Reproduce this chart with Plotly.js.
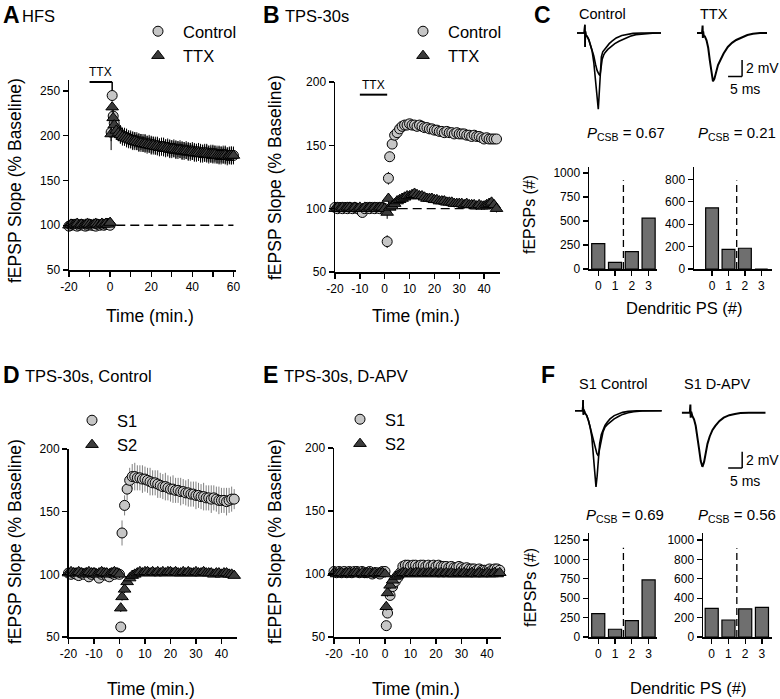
<!DOCTYPE html>
<html>
<head>
<meta charset="utf-8">
<script src="https://cdn.plot.ly/plotly-3.0.1.min.js"></script>
<style>
  html, body { margin: 0; padding: 0; background: #fff; }
  #chart { width: 780px; height: 699px; }
</style>
</head>
<body>
<div id="chart"></div>
<script>
// ---- time courses (min, % baseline) ----
const tBase = [-20,-19,-18,-17,-16,-15,-14,-13,-12,-11,-10,-9,-8,-7,-6,-5,-4,-3,-2,-1,0];

// tick labels (hyphen minus as in the figure)
const tickA = [-20, 0, 20, 40, 60];
const tickA_text = ['-20', '0', '20', '40', '60'];
const tickB = [-20, -10, 0, 10, 20, 30, 40];
const tickB_text = ['-20', '-10', '0', '10', '20', '30', '40'];

// A: HFS
const tA_post = [0.5,1,1.5,2,3,4,5,6,7,8,9,10,11,12,13,14,15,16,17,18,19,20,21,22,23,24,25,26,27,28,29,30,
  31,32,33,34,35,36,37,38,39,40,41,42,43,44,45,46,47,48,49,50,51,52,53,54,55,56,57,58,59,60];
const hfsCtrlBase = [99,100,101,100,99,100,101,100,99,100, 101,100,100,99,101,100,101,100,101,102, 100];
const hfsCtrlPost = [204,245,222,214, 208,204,202,200,199,198,197,196,
  195,195,194,193,193,192,192,191,191,190, 190,189,189,188,188,188,187,187,186,186,
  186,185,185,185,184,184,184,183,183,183, 182,182,182,181,181,181,181,180,180,180,
  180,179,179,179,179,179,178,178,178,178];
const hfsTtxBase = [100,101,100,101,102,100,101,100,101,102, 101,100,101,102,101,100,102,101,102,101, 103];
const hfsTtxPost = [202,232,220,212, 206,203,201,199,198,197,196,195,
  194,194,193,192,192,191,191,190,190,189, 189,188,188,187,187,187,186,186,185,185,
  185,184,184,184,183,183,183,182,182,182, 181,181,181,180,180,180,180,179,179,179,
  179,178,178,178,178,178,177,178,178,178];
const hfsCtrlErrPost = [10,6,9,9, 10,10,10,9,10,10,9,10, 10,9,10,10,9,10,10,9,10,10,
  9,10,10,9,10,10,9,10,10,9, 10,10,9,10,10,9,10,10,9,10, 10,9,10,10,9,10,10,9,10,10, 9,10,10,9,10,10,9,10,10,9];
const hfsTtxErrPost = [18,6,8,9, 10,9,10,10,9,10,10,9, 10,10,9,10,10,9,10,10,9,10,
  10,9,10,10,9,10,10,9,10,10, 9,10,10,9,10,10,9,10,10,9, 10,10,9,10,10,9,10,10,9,10, 10,9,10,10,9,10,10,9,10,10];
const errBase = [2,2,3,2,2,3,2,2,2,3, 2,2,3,2,2,2,3,2,2,2, 3];

// B: TPS-30s
const tB_post = [1,1.5,2,3,4,5,6,7,8,9,10,11,12,13,14,15,16,17,18,19,20,21,22,23,24,25,26,27,28,29,30,
  31,32,33,34,35,36,37,38,39,40,41,42,43,44,45];
const tpsCtrlBase = [101,100,101,100,101,100,101,100,101,100, 99,97,100,101,100,101,100,101,100,101, 100];
const tpsCtrlPost = [74,124,141, 151,158,160,163,165,166,166,167,
  166,166,165,166,165,164,164,163,163,162, 162,161,161,160,161,160,160,159,160,159,
  159,159,158,158,157,158,157,157,156,155, 156,155,155,155,155];
const tpsTtxBase = [100,101,100,101,100,101,101,100,101,100, 101,100,101,100,101,100,101,100,101,101, 100];
const tpsTtxPost = [97,108,101, 102,104,106,107,108,109,110,110,
  111,112,111,110,110,109,108,108,108,107, 107,106,106,106,105,105,105,104,104,104,
  104,103,104,103,103,103,102,103,102,102, 103,104,105,103,100];
const tpsCtrlErrPost = [5,5,4, 3,3,3,3,3,3,3,3, 3,3,3,3,3,3,3,3,3,3, 3,3,3,3,3,3,3,3,3,3, 3,3,3,3,3,3,3,3,3,3, 3,3,3,3,3];
const tpsTtxErrPost = [5,4,3, 3,3,3,3,3,3,3,3, 3,3,3,3,3,3,3,3,3,3, 3,3,3,3,3,3,3,3,3,3, 3,3,3,3,3,3,3,3,3,3, 3,3,3,3,3];

// D / E: S1 and S2 pathways
const tD_post = [0.5,1,2,3,4,5,6,7,8,9,10,11,12,13,14,15,16,17,18,19,20,21,22,23,24,25,26,27,28,29,30,
  31,32,33,34,35,36,37,38,39,40,41,42,43,44,45];
const ctlS1Base = [101,100,101,100,99,101,100,101,98,100, 101,100,97,100,101,99,98,101,100,101, 100];
const ctlS1Post = [58,133, 155,168,175,178,178,177,177,176,176,
  175,174,173,173,172,171,170,170,169,168, 168,167,167,166,166,165,165,164,164,163,
  163,162,162,161,161,160,161,160,159,159, 159,158,159,160,160];
const ctlS1ErrPost = [0,10, 8,9,10,10,11,10,10,11,10, 10,11,10,10,11,10,10,11,10,10,
  11,10,10,11,10,10,11,10,10,11, 10,10,11,10,10,11,10,10,11,10, 10,11,10,10,8];
const ctlS2Base = [101,102,101,101,102,101,100,101,102,101, 101,100,101,102,101,101,100,101,102,101, 100];
const ctlS2Post = [73,82, 88,94,97,99,100,101,102,101,102,
  102,101,102,101,102,101,102,101,102,102, 101,102,101,101,102,101,102,101,101,102,
  101,101,102,101,101,101,100,101,101,100, 101,101,100,100,99];
const apvS1Base = [102,101,102,101,102,101,102,101,102,102, 101,102,101,101,102,100,101,101,100,102, 102];
const apvS1Post = [59,69, 83,90,94,97,101,106,107,107,106,
  107,107,106,107,107,106,107,106,107,106, 107,106,106,106,105,106,105,105,106,105,
  104,105,104,104,104,103,104,103,103,103, 104,103,104,104,103];
const apvS2Base = [101,100,101,101,100,101,101,100,101,101, 100,101,100,101,101,100,101,100,101,101, 100];
const apvS2Post = [74,85, 91,95,98,99,100,101,101,100,101,
  100,101,101,100,101,100,101,101,100,101, 100,101,100,101,100,101,100,100,101,100,
  101,100,100,101,100,100,101,100,100,101, 100,100,101,100,101];
const smallErrPost = [3,3, 3,2,2,2,2,2,2,2,2, 2,2,2,2,2,2,2,2,2,2, 2,2,2,2,2,2,2,2,2,2, 2,2,2,2,2,2,2,2,2,2, 2,2,2,2,2];

// ---- dendritic population spike histograms ----
const psCats = [0, 1, 2, 3];
const histCtrl = [265, 70, 180, 530];
const histTtx = [545, 175, 185, 0];
const histS1Ctrl = [300, 100, 210, 735];
const histS1Apv = [295, 175, 290, 305];

// ---- example fEPSP traces (ms, mV) ----
const tC_noPS = [0,2.6,2.8,2.9,3.0,3.2,3.6,4.2,4.8,5.4,6.0,6.6,7.2,7.8,8.2,8.6,9.0,9.5,10,11,12,13.5,15,17,19,21,24,27,30];
const vC_noPS = [0,0,1.0,-1.7,0.2,-0.3,-0.4,-0.8,-1.4,-2.0,-2.8,-3.8,-4.6,-5.0,-5.2,-4.2,-3.2,-2.7,-2.4,-2.0,-1.7,-1.3,-1.0,-0.65,-0.4,-0.2,-0.08,-0.02,0];
const tC_PS = [0,2.6,2.8,2.9,3.0,3.2,3.6,4.2,4.8,5.4,6.0,6.5,7.0,7.3,7.6,7.9,8.3,8.7,9.2,9.8,10.5,11.5,12.5,14,16,18,20,23,26,30];
const vC_PS = [0,0,1.0,-1.7,0.2,-0.3,-0.4,-0.8,-1.4,-2.2,-3.6,-5.5,-7.8,-9.0,-9.3,-7.6,-4.6,-2.9,-2.3,-2.0,-1.7,-1.3,-1.0,-0.6,-0.3,-0.15,-0.05,0,0,0];
const tC_TTX = [0,1.8,2.0,2.1,2.2,2.4,2.8,3.4,4.0,4.6,5.2,5.7,6.2,6.8,7.5,8.5,9.5,11,12.5,14,16,18,20,22.5,25];
const vC_TTX = [0,0,0.9,-0.6,0.2,-0.3,-0.4,-0.9,-1.8,-3.4,-5.2,-5.9,-5.6,-4.7,-3.9,-3.2,-2.5,-1.7,-1.2,-0.85,-0.5,-0.25,-0.1,0,0];
const tF_noPS = [0,2.7,2.9,3.0,3.2,3.6,4.2,4.8,5.4,6.0,6.6,7.2,7.8,8.3,8.8,9.4,10,10.7,11.5,12.5,14,15.5,17,19,21,24,27,31];
const vF_noPS = [0,0,1.3,-0.5,0.1,-0.3,-0.6,-1.2,-2.0,-2.9,-3.8,-4.6,-5.2,-5.5,-4.8,-3.6,-2.6,-2.0,-1.7,-1.4,-1.0,-0.7,-0.45,-0.25,-0.12,-0.03,0,0];
const tF_PS = [0,2.7,2.9,3.0,3.2,3.6,4.2,4.8,5.4,6.0,6.5,7.0,7.5,7.9,8.3,8.8,9.4,10,10.7,11.5,12.5,14,15.5,17,19,22,26,31];
const vF_PS = [0,0,1.3,-0.5,0.1,-0.3,-0.6,-1.2,-2.0,-3.2,-5.2,-7.6,-9.3,-8.0,-5.5,-4.0,-2.9,-2.3,-1.8,-1.4,-1.0,-0.6,-0.35,-0.2,-0.08,0,0,0];
const tF_APV = [0,2.9,3.1,3.2,3.4,3.8,4.4,5.0,5.6,6.2,6.8,7.4,8.0,8.6,9.2,10,11,12,13.5,15,17,19,21,24,27,30];
const vF_APV = [0,0,1.0,-0.6,0.1,-0.4,-0.8,-1.6,-2.8,-4.4,-5.9,-6.6,-6.0,-4.8,-3.8,-2.9,-2.1,-1.6,-1.0,-0.6,-0.3,-0.15,-0.05,0,0,0];

// ---- helpers ----
const W = 780, H = 699;
const FONT = 'Liberation Sans, Arial, sans-serif';
const CIRCLE_FILL = '#c6c6c6';
const TRI_FILL = '#3c3c3c';
const dx = (a, b) => [a / W, b / W];
const dy = (top, bottom) => [1 - bottom / H, 1 - top / H];

function axis(extra) {
  return Object.assign({
    showline: true, linecolor: 'black', linewidth: 1.5,
    ticks: 'outside', ticklen: 5, tickwidth: 1.3, tickcolor: 'black',
    showgrid: false, zeroline: false, fixedrange: true,
    tickfont: {family: FONT, size: 12, color: 'black'}
  }, extra);
}
function hidden(domain, range) {
  return {visible: false, domain, range, fixedrange: true};
}
function timeSeries(name, t, y, err, n, symbol, legend, errColor) {
  const circle = symbol === 'circle';
  return {
    type: 'scatter', mode: 'markers', name, x: t, y,
    xaxis: n > 1 ? 'x' + n : 'x', yaxis: n > 1 ? 'y' + n : 'y',
    marker: {symbol, size: circle ? 10 : 11, color: circle ? CIRCLE_FILL : TRI_FILL,
             line: {color: 'black', width: 1}},
    error_y: {type: 'data', array: err, color: errColor || 'black', thickness: 1, width: 0},
    cliponaxis: false, legend
  };
}
function bars(y, n) {
  return {type: 'bar', x: psCats, y, xaxis: 'x' + n, yaxis: 'y' + n, width: 0.78,
          marker: {color: '#6f6f6f', line: {color: 'black', width: 1.2}},
          showlegend: false, cliponaxis: false};
}
function wave(t, v, n, w) {
  return {type: 'scatter', mode: 'lines', x: t, y: v, xaxis: 'x' + n, yaxis: 'y' + n,
          line: {color: 'black', width: w || 1.6}, showlegend: false, cliponaxis: false};
}
function label(text, x, y, size, extra) {
  return Object.assign({text, x: x / W, y: 1 - y / H, xref: 'paper', yref: 'paper',
    showarrow: false, xanchor: 'left', yanchor: 'middle',
    font: {family: FONT, size, color: 'black'}}, extra || {});
}
function line(ref, x0, y0, x1, y1, extra) {
  return Object.assign({type: 'line', xref: 'x' + ref, yref: 'y' + ref, x0, y0, x1, y1,
    line: {color: 'black', width: 1.5}}, extra || {});
}

const traces = [
  timeSeries('Control', tBase.concat(tA_post), hfsCtrlBase.concat(hfsCtrlPost), errBase.concat(hfsCtrlErrPost), 1, 'circle', 'legend'),
  timeSeries('TTX', tBase.concat(tA_post), hfsTtxBase.concat(hfsTtxPost), errBase.concat(hfsTtxErrPost), 1, 'triangle-up', 'legend'),
  timeSeries('Control', tBase.concat(tB_post), tpsCtrlBase.concat(tpsCtrlPost), errBase.concat(tpsCtrlErrPost), 2, 'circle', 'legend2'),
  timeSeries('TTX', tBase.concat(tB_post), tpsTtxBase.concat(tpsTtxPost), errBase.concat(tpsTtxErrPost), 2, 'triangle-up', 'legend2'),
  timeSeries('S1', tBase.concat(tD_post), ctlS1Base.concat(ctlS1Post), errBase.concat(ctlS1ErrPost), 3, 'circle', 'legend3', '#808080'),
  timeSeries('S2', tBase.concat(tD_post), ctlS2Base.concat(ctlS2Post), errBase.concat(smallErrPost), 3, 'triangle-up', 'legend3'),
  timeSeries('S1', tBase.concat(tD_post), apvS1Base.concat(apvS1Post), errBase.concat(smallErrPost), 4, 'circle', 'legend4'),
  timeSeries('S2', tBase.concat(tD_post), apvS2Base.concat(apvS2Post), errBase.concat(smallErrPost), 4, 'triangle-up', 'legend4'),
  bars(histCtrl, 5), bars(histTtx, 6), bars(histS1Ctrl, 7), bars(histS1Apv, 8),
  wave(tC_noPS, vC_noPS, 9), wave(tC_PS, vC_PS, 9),
  wave(tC_TTX, vC_TTX, 10, 2),
  wave(tF_noPS, vF_noPS, 11), wave(tF_PS, vF_PS, 11),
  wave(tF_APV, vF_APV, 12, 2)
];

const minor10 = {dtick: 10, ticks: 'outside', ticklen: 5, tickwidth: 1.3, tickcolor: 'black'};
const legendStyle = (x, y) => ({x: x / W, y: 1 - y / H, xanchor: 'left', yanchor: 'top',
  itemwidth: 40, bgcolor: 'rgba(0,0,0,0)', borderwidth: 0,
  font: {family: FONT, size: 16.5, color: 'black'}});
const timeTicksB = {tickvals: tickB, ticktext: tickB_text};

const layout = {
  width: W, height: H, margin: {l: 0, r: 0, t: 0, b: 0},
  paper_bgcolor: 'white', plot_bgcolor: 'rgba(0,0,0,0)',
  font: {family: FONT, color: 'black'}, hovermode: false, showlegend: true,
  legend: legendStyle(133, 14), legend2: legendStyle(398, 14),
  legend3: legendStyle(67, 403), legend4: legendStyle(335, 402),
  // A
  xaxis: axis({domain: dx(69, 235.5), range: [-20, 61], tickvals: tickA, ticktext: tickA_text, minor: minor10, anchor: 'y'}),
  yaxis: axis({domain: dy(80.3, 270), range: [50, 262], tick0: 50, dtick: 50, anchor: 'x'}),
  // B
  xaxis2: axis(Object.assign({domain: dx(335, 500), range: [-20, 46.4], anchor: 'y2'}, timeTicksB)),
  yaxis2: axis({domain: dy(82, 272), range: [50, 200], tick0: 50, dtick: 50, anchor: 'x2'}),
  // D
  xaxis3: axis(Object.assign({domain: dx(68.5, 237), range: [-20, 46.1], anchor: 'y3'}, timeTicksB)),
  yaxis3: axis({domain: dy(449, 637), range: [50, 200], tick0: 50, dtick: 50, anchor: 'x3'}),
  // E
  xaxis4: axis(Object.assign({domain: dx(334, 500.5), range: [-20, 45.3], anchor: 'y4'}, timeTicksB)),
  yaxis4: axis({domain: dy(448, 637), range: [50, 200], tick0: 50, dtick: 50, anchor: 'x4'}),
  // C histograms
  xaxis5: axis({domain: dx(589, 657), range: [-0.55, 3.5], tickvals: psCats, anchor: 'y5'}),
  yaxis5: axis({domain: dy(167, 269), range: [0, 1062], tickvals: [0, 250, 500, 750, 1000], anchor: 'x5'}),
  xaxis6: axis({domain: dx(694, 772), range: [-1.1, 3.65], tickvals: psCats, anchor: 'y6'}),
  yaxis6: axis({domain: dy(167, 269), range: [0, 910], tickvals: [0, 200, 400, 600, 800], anchor: 'x6'}),
  // F histograms
  xaxis7: axis({domain: dx(589, 657), range: [-0.55, 3.5], tickvals: psCats, anchor: 'y7'}),
  yaxis7: axis({domain: dy(533, 637), range: [0, 1340], tickvals: [0, 250, 500, 750, 1000, 1250], anchor: 'x7'}),
  xaxis8: axis({domain: dx(703, 772), range: [-0.52, 3.6], tickvals: psCats, anchor: 'y8'}),
  yaxis8: axis({domain: dy(533, 637), range: [0, 1072], tickvals: [0, 200, 400, 600, 800, 1000], anchor: 'x8'}),
  // example traces
  xaxis9: hidden(dx(577, 661), [0, 30]), yaxis9: hidden(dy(20.7, 115), [-10, 1.5]),
  xaxis10: hidden(dx(697, 767), [0, 25]), yaxis10: hidden(dy(20.7, 115), [-10, 1.5]),
  xaxis11: hidden(dx(575, 661.8), [0, 31]), yaxis11: hidden(dy(398.4, 492.7), [-10, 1.5]),
  xaxis12: hidden(dx(681.7, 765.7), [0, 30]), yaxis12: hidden(dy(400.4, 494.7), [-10, 1.5]),
  shapes: [
    // drug application bars
    line('', -10, 260, 1, 260, {line: {color: 'black', width: 2}}),
    line('', 1, 260, 1, 251, {line: {color: 'black', width: 1.5}}),
    line('2', -10, 190, 1, 190, {line: {color: 'black', width: 2}}),
    // baseline references
    line('', 3, 100, 60, 100, {line: {color: 'black', width: 1.3, dash: '9px,5px'}}),
    line('2', 0, 100, 45, 100, {line: {color: 'black', width: 1.3, dash: '9px,5px'}, layer: 'below'}),
    // histogram separators
    line('5', 1.5, 0, 1.5, 925, {line: {color: 'black', width: 1.3, dash: '7px,4px'}}),
    line('6', 1.5, 0, 1.5, 790, {line: {color: 'black', width: 1.3, dash: '7px,4px'}}),
    line('7', 1.5, 0, 1.5, 1150, {line: {color: 'black', width: 1.3, dash: '7px,4px'}}),
    line('8', 1.5, 0, 1.5, 915, {line: {color: 'black', width: 1.3, dash: '7px,4px'}}),
    // scale bars
    line('10', 16.1, -3.3, 16.1, -5.3), line('10', 11.1, -5.3, 16.1, -5.3),
    line('12', 21.6, -4.75, 21.6, -6.75), line('12', 16.6, -6.75, 21.6, -6.75)
  ],
  annotations: [
    label('<b>A</b>', 1, 15, 23), label('HFS', 20, 16, 16.5),
    label('<b>B</b>', 261, 15, 23), label('TPS-30s', 283, 16, 16.5),
    label('<b>C</b>', 532, 15, 23),
    label('<b>D</b>', 1, 375, 23), label('TPS-30s, Control', 23, 376, 16.5),
    label('<b>E</b>', 261, 375, 23), label('TPS-30s, D-APV', 282, 376, 16.5),
    label('<b>F</b>', 539, 375, 23),
    label('fEPSP Slope (% Baseline)', 15, 181, 17.5, {xanchor: 'center', textangle: -90}),
    label('fEPSP Slope (% Baseline)', 275, 178, 17.5, {xanchor: 'center', textangle: -90}),
    label('fEPSP Slope (% Baseline)', 15, 542, 17.5, {xanchor: 'center', textangle: -90}),
    label('fEPEP Slope (% Baseline)', 275, 542, 17.5, {xanchor: 'center', textangle: -90}),
    label('Time (min.)', 150, 316, 17.5, {xanchor: 'center'}),
    label('Time (min.)', 416, 316, 17.5, {xanchor: 'center'}),
    label('Time (min.)', 151, 689, 17.5, {xanchor: 'center'}),
    label('Time (min.)', 416, 689, 17.5, {xanchor: 'center'}),
    label('fEPSPs (#)', 529, 215, 16, {xanchor: 'center', textangle: -90}),
    label('fEPSPs (#)', 530, 588, 16, {xanchor: 'center', textangle: -90}),
    label('Dendritic PS (#)', 684, 308, 16.5, {xanchor: 'center'}),
    label('Dendritic PS (#)', 688, 688, 16.5, {xanchor: 'center'}),
    label('<i>P</i><sub>CSB</sub> = 0.67', 585, 133, 15),
    label('<i>P</i><sub>CSB</sub> = 0.21', 696, 133, 15),
    label('<i>P</i><sub>CSB</sub> = 0.69', 584, 515, 15),
    label('<i>P</i><sub>CSB</sub> = 0.56', 696, 515, 15),
    label('Control', 577, 14, 14.5), label('TTX', 698, 14, 14.5),
    label('S1 Control', 577, 384, 14.5), label('S1 D-APV', 682, 384, 14.5),
    {text: 'TTX', x: -4.5, y: 260, xref: 'x', yref: 'y', showarrow: false, yanchor: 'bottom', yshift: 1,
     font: {family: FONT, size: 12, color: 'black'}},
    {text: 'TTX', x: -4.5, y: 190, xref: 'x2', yref: 'y2', showarrow: false, yanchor: 'bottom', yshift: 1,
     font: {family: FONT, size: 12, color: 'black'}},
    {text: '2 mV', x: 16.1, y: -4.3, xref: 'x10', yref: 'y10', showarrow: false, xanchor: 'left', xshift: 2,
     font: {family: FONT, size: 14, color: 'black'}},
    {text: '5 ms', x: 11.1, y: -5.3, xref: 'x10', yref: 'y10', showarrow: false, xanchor: 'left', yanchor: 'top', yshift: -3,
     font: {family: FONT, size: 14, color: 'black'}},
    {text: '2 mV', x: 21.6, y: -5.75, xref: 'x12', yref: 'y12', showarrow: false, xanchor: 'left', xshift: 2,
     font: {family: FONT, size: 14, color: 'black'}},
    {text: '5 ms', x: 16.6, y: -6.75, xref: 'x12', yref: 'y12', showarrow: false, xanchor: 'left', yanchor: 'top', yshift: -3,
     font: {family: FONT, size: 14, color: 'black'}}
  ]
};

Plotly.newPlot('chart', traces, layout, {staticPlot: true, displayModeBar: false});
</script>
</body>
</html>
